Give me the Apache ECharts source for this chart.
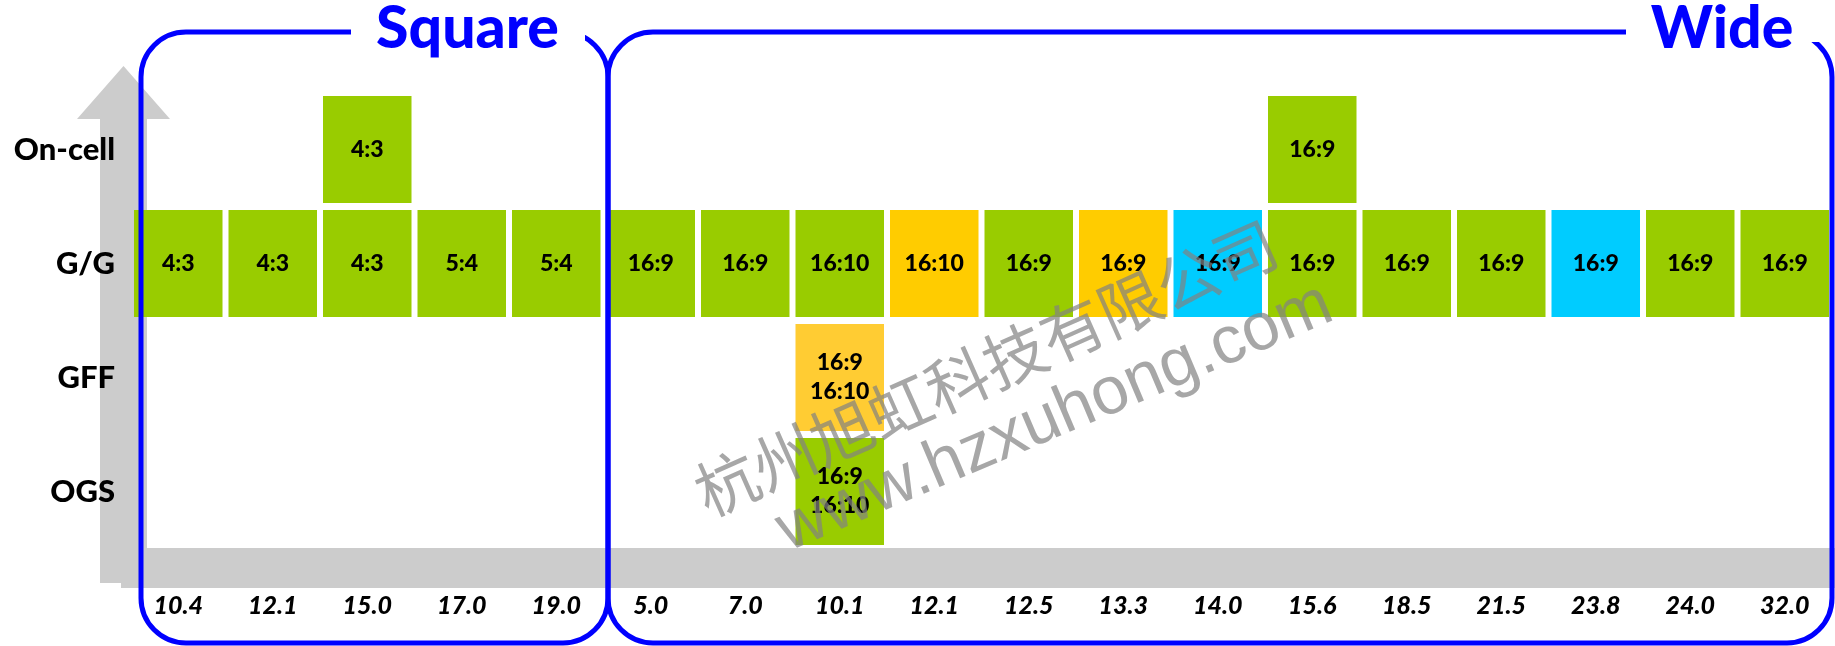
<!DOCTYPE html>
<html>
<head>
<meta charset="utf-8">
<script src="https://cdn.jsdelivr.net/npm/echarts@6/dist/echarts.min.js"></script>
<style>
html,body{margin:0;padding:0;background:#fff;}
#chart{width:1835px;height:646px;}
</style>
</head>
<body>
<div id="chart"></div>
<script>
// ---- data ----
const sizes = ['10.4','12.1','15.0','17.0','19.0','5.0','7.0','10.1','12.1','12.5','13.3','14.0','15.6','18.5','21.5','23.8','24.0','32.0'];
const rows = ['OGS','GFF','G/G','On-cell'];
const ggRatio = ['4:3','4:3','4:3','5:4','5:4','16:9','16:9','16:10','16:10','16:9','16:9','16:9','16:9','16:9','16:9','16:9','16:9','16:9'];
const ggType  = ['a','a','a','a','a','a','a','a','b','a','b','c','a','a','a','c','a','a'];
const onCellCells = [[2,'4:3','a'],[12,'16:9','a']];
const gffCells = [[7,'16:9\n16:10','d']];
const ogsCells = [[7,'16:9\n16:10','a']];
const groupTitles = ['Square','Wide'];
const watermarkLines = ['杭州旭虹科技有限公司','www.hzxuhong.com'];

// ---- styles ----
const typeColors = {a:'#99CC00', b:'#FFCC00', c:'#00CCFF', d:'#FFCC33'};

const cells = [];
ggRatio.forEach((r,i)=>cells.push([i, 2, r, ggType[i]]));
onCellCells.forEach(c=>cells.push([c[0], 3, c[1], c[2]]));
gffCells.forEach(c=>cells.push([c[0], 1, c[1], c[2]]));
ogsCells.forEach(c=>cells.push([c[0], 0, c[1], c[2]]));

const chart = echarts.init(document.getElementById('chart'), null, {renderer:'canvas'});
const blue = '#0000FF';
const gray = '#CCCCCC';
const deg = Math.PI/180;

const option = {
  backgroundColor:'#fff',
  animation:false,
  grid:{left:131, right:3, top:92.5, bottom:97.5, containLabel:false},
  xAxis:{
    type:'category', data:sizes,
    axisLine:{show:false}, axisTick:{show:false}, splitLine:{show:false},
    axisLabel:{margin:45, fontFamily:'Lato', fontWeight:900, fontStyle:'italic', fontSize:25, lineHeight:25, color:'#000', interval:0}
  },
  yAxis:{
    type:'category', data:rows,
    axisLine:{show:false}, axisTick:{show:false}, splitLine:{show:false},
    axisLabel:{margin:16, fontFamily:'Lato', fontWeight:900, fontSize:31, color:'#000'}
  },
  graphic:[
    // gray arrow (decoration)
    {type:'polygon', z:0, shape:{points:[[100,583],[100,119],[77,119],[123.5,66],[170,119],[147,119],[147,583]]}, style:{fill:gray}},
    {type:'rect', z:0, shape:{x:121,y:548,width:1714,height:40}, style:{fill:gray}},
    // group boxes
    {type:'rect', z:10, shape:{x:141,y:32,width:467,height:611,r:45}, style:{fill:null, stroke:blue, lineWidth:5}},
    {type:'rect', z:10, shape:{x:608,y:32,width:1224,height:611,r:45}, style:{fill:null, stroke:blue, lineWidth:5}},
    {type:'rect', z:12, shape:{x:351,y:22,width:234,height:20}, style:{fill:'#fff'}},
    {type:'rect', z:12, shape:{x:1626,y:22,width:194,height:20}, style:{fill:'#fff'}},
    {type:'text', z:13, x:467.5, y:29, style:{text:groupTitles[0], fill:blue, font:'900 59px Lato', align:'center', verticalAlign:'middle'}},
    {type:'text', z:13, x:1722, y:29, style:{text:groupTitles[1], fill:blue, font:'900 59px Lato', align:'center', verticalAlign:'middle'}},
    // watermark
    {type:'text', z:11, x:986, y:368, rotation:24*deg, style:{text:watermarkLines[0], fill:'rgba(130,130,130,0.7)', font:'63px "Noto Sans CJK SC"', align:'center', verticalAlign:'middle'}},
    {type:'text', z:11, x:1055, y:418, rotation:23*deg, style:{text:watermarkLines[1], fill:'rgba(130,130,130,0.7)', font:'67px "Liberation Sans"', align:'center', verticalAlign:'middle'}}
  ],
  series:[{
    type:'custom', z:2,
    data: cells.map(c=>[c[0], c[1]]),
    encode:{x:0, y:1},
    renderItem:function(params, api){
      const c = cells[params.dataIndex];
      const p = api.coord([api.value(0), api.value(1)]);
      const s = api.size([1,1]);
      const w = s[0]-6, h = s[1]-7;
      return {type:'group', children:[
        {type:'rect', shape:{x:p[0]-w/2, y:p[1]-h/2, width:w, height:h}, style:{fill:typeColors[c[3]]}},
        {type:'text', x:p[0], y:p[1], style:{text:c[2], fill:'#000', font:'900 23px Lato', align:'center', verticalAlign:'middle', lineHeight:29}}
      ]};
    }
  }]
};
chart.setOption(option);
</script>
</body>
</html>
